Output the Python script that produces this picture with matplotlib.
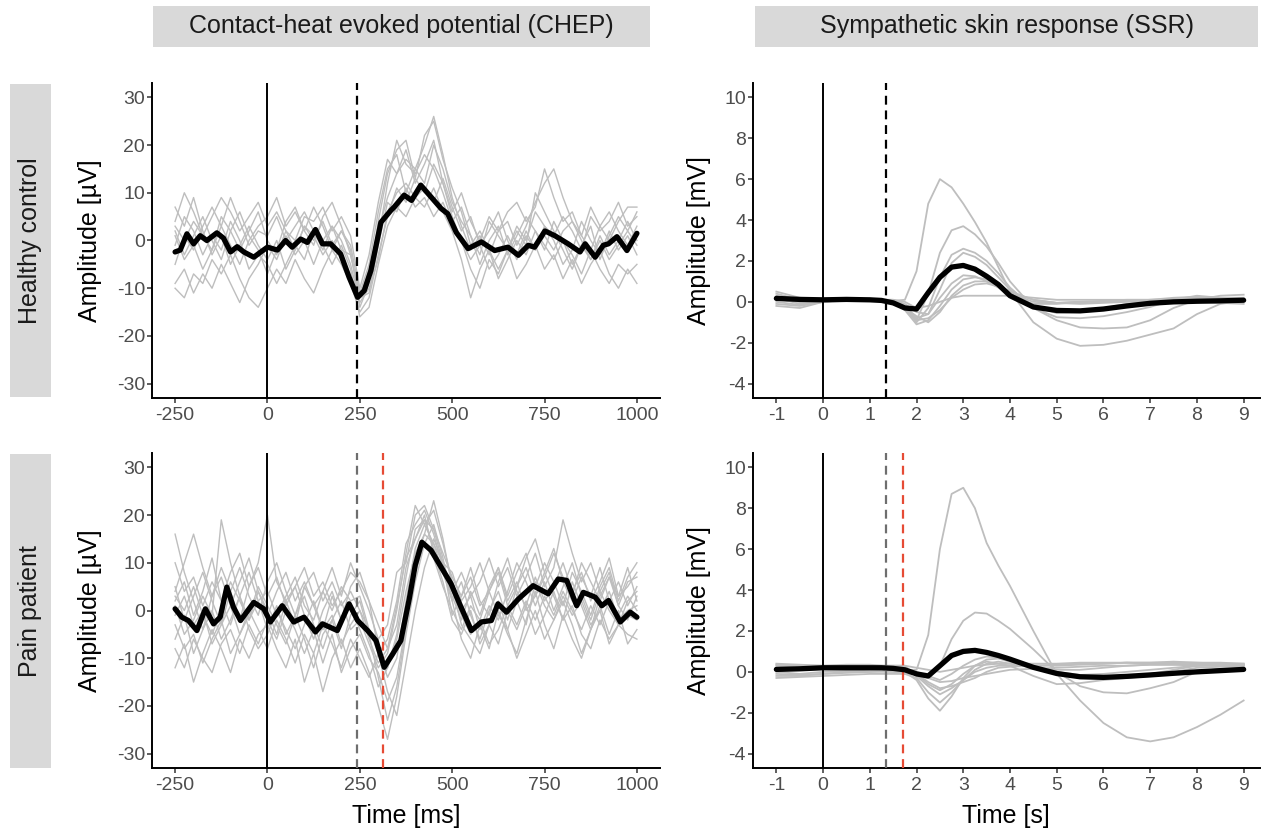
import matplotlib.pyplot as plt
from matplotlib.patches import Rectangle

plt.rcParams['font.family'] = ['Liberation Sans', 'DejaVu Sans']
plt.rcParams['axes.unicode_minus'] = False

# ---------------- DATA ----------------
# CHEP single traces, sampled every 25 ms from -250 to 1000 ms
chep_time = list(range(-250, 1001, 25))

# healthy control, single trials (uV)
hc1 = [4, 10, 6, 1, 5, 9, 6, 2, 5, 8,
       3, 6, 2, -2, 3, 1, -3, 0, -4, -8,
       -12, -6, 2, 9, 14, 17, 15, 20, 26, 18,
       9, 3, -2, 1, -3, 2, 4, -1, 3, 8,
       12, 15, 9, 4, 1, -2, 3, 6, 2, -1,
       3]
hc2 = [-10, -12, -7, -9, -4, -7, -3, -8, -12, -14,
       -10, -6, -9, -4, -8, -11, -6, -2, -5, -9,
       -15, -12, -3, 5, 11, 8, 13, 10, 16, 12,
       5, 0, -6, -10, -4, -7, -2, -8, -5, -1,
       -6, -3, -8, -4, -9, -5, -2, -7, -10, -6,
       -9]
hc3 = [2, -3, 1, 5, 0, -4, 2, 6, 1, -2,
       -7, -2, 4, 7, 2, -1, 5, 8, 3, -3,
       -11, -8, 0, 12, 21, 16, 14, 18, 15, 10,
       4, 7, 1, -5, 0, 3, -3, 1, 5, 2,
       -2, 4, 0, -5, -1, 3, -4, 1, 5, 2,
       6]
hc4 = [-5, 1, -2, 3, 7, 3, 9, 4, -1, 2,
       1, 5, 0, 3, 6, 2, -2, 3, 0, -5,
       -13, -10, -4, 6, 10, 12, 9, 11, 8, 13,
       7, 2, 5, -1, 2, 6, 0, -4, 1, -2,
       3, 0, -5, -2, 4, 0, -3, 2, -2, 1,
       -3]
hc5 = [7, 3, 9, 2, -3, 1, -5, -1, 3, -1,
       -4, 0, -6, -2, 3, 0, 4, -1, 2, -2,
       -14, -9, 4, 14, 19, 21, 13, 22, 25, 17,
       11, 6, -1, 2, -2, -6, -2, 2, -1, 10,
       6, 2, -2, -6, -1, -4, 1, -3, 0, 4,
       0]
hc6 = [-1, 5, 2, -3, 1, -2, 4, 0, -6, -3,
       -5, -9, -5, -1, -4, 2, -1, -5, -1, -6,
       -16, -14, -5, 3, 7, 5, 9, 7, 11, 6,
       2, -4, -12, -6, -2, -8, -4, 0, -3, 2,
       -1, -4, 0, -3, -7, -2, -6, -9, -5, -7,
       -5]
hc7 = [1, -4, -1, -6, -2, 3, -1, -5, 0, 3,
       5, 9, 3, 6, 2, 7, 3, -2, 2, -1,
       -11, -5, 6, 15, 18, 10, 15, 12, 20, 15,
       8, 4, 1, -3, 4, 1, -2, 3, 0, 6,
       3, 1, 5, 2, -2, 5, 2, 4, 8, 3,
       5]
hc8 = [-9, -6, -11, -7, -10, -5, -9, -13, -8, -5,
       -1, -4, 1, -3, 0, -5, 0, 3, -2, -3,
       -12, -11, -1, 8, 6, 11, 7, 9, 5, 8,
       3, 0, -4, -1, -6, -3, 1, -3, 2, -2,
       1, -2, 2, 4, 0, -4, 0, -4, -1, 2,
       -1]
hc9 = [3, 0, 4, 1, -2, 5, 2, -2, 2, 6,
       0, -3, 2, 0, 5, 4, 7, 2, 5, 1,
       -10, -3, 8, 17, 14, 19, 12, 16, 21, 12,
       6, 10, 4, 0, 5, 2, 6, 8, 4, 7,
       15, 9, 4, 6, 1, 7, 3, 0, 4, 7,
       7]

# pain patient, single trials (uV)
pp1 = [16, 8, 2, -4, 3, 9, 4, -2, 5, 10,
       20, 6, 2, -3, 5, 1, -4, 3, -2, 1,
       -4, -9, -16, -12, -6, 4, 12, 16, 14, 8,
       3, -2, 4, -1, 5, 9, 3, 8, 12, 5,
       10, 6, 1, 8, 4, -1, 5, 9, 2, 7,
       10]
pp2 = [-12, -7, -15, -9, -4, -8, -13, -6, -10, -5,
       -3, -8, -12, -6, -15, -9, -17, -10, -6, -12,
       -8, -13, -20, -27, -18, -5, 6, 14, 18, 11,
       2, -6, -10, -3, -8, 0, -5, -9, -2, 4,
       -3, -8, -1, -6, -10, -4, 0, -7, -3, -5,
       -6]
pp3 = [4, 10, 16, 9, 3, 7, 1, 6, 11, 4,
       -1, 4, 8, 2, 6, 1, 4, 9, 3, 10,
       5, 0, -6, -3, 8, 10, 20, 22, 17, 12,
       7, 3, 9, 2, -1, 6, 11, 4, 1, 7,
       2, 5, 10, 4, 8, 2, 6, 11, 3, 5,
       8]
pp4 = [-3, -8, -5, -11, -6, -2, -9, -5, 0, -4,
       -8, -2, -6, -11, -5, -9, -3, -7, -12, -6,
       -10, -14, -9, -17, -22, -11, 0, 9, 15, 10,
       4, -1, -5, -2, -7, -4, 1, -3, 2, -2,
       3, -1, 4, 0, -4, 1, -3, 2, -1, 3,
       0]
pp5 = [1, -5, -2, 3, -1, 19, 10, 3, -2, 4,
       0, -5, 2, 5, -1, -6, 0, 4, -2, 5,
       8, 2, -8, -12, -5, 7, 17, 19, 13, 8,
       2, 6, -1, -6, 0, 4, -2, 5, 11, 15,
       8, 3, -2, 6, 1, -4, 3, 7, 1, -2,
       3]
pp6 = [2, 6, -1, 4, 11, 2, -3, 3, 8, 2,
       -4, 1, -5, -1, 3, -3, -8, -2, 2, -4,
       -2, -7, -12, -9, 0, 12, 22, 18, 21, 14,
       6, 0, 3, -4, 1, -2, 4, 10, 6, 1,
       6, 0, 5, 10, 3, -2, 4, 0, -3, 2,
       4]
pp7 = [-8, -12, -6, -10, -13, -7, -4, -9, -3, -7,
       -2, -6, 0, -4, -9, -4, -11, -5, -13, -8,
       -5, -10, -13, -19, -14, -3, 10, 16, 23, 15,
       5, -3, -6, -9, -3, -7, 0, -4, 1, -5,
       -1, 4, -2, 1, -5, -8, -2, -6, -3, -1,
       -2]
pp8 = [5, -2, 3, 8, 2, -3, 4, 9, 3, -1,
       6, 10, 4, -1, 5, 8, 2, 6, 1, 4,
       0, -4, -9, -6, 2, 14, 18, 21, 16, 9,
       4, 8, 3, 6, 11, 5, 9, 3, 7, 12,
       5, 9, 19, 12, 6, 10, 4, 8, 1, 6,
       7]
pp9 = [3, 0, 5, -1, -5, 0, 6, 2, -2, 2,
       4, -1, 3, 7, 1, -2, 4, 0, 5, 2,
       3, -4, -8, -14, -10, 2, 13, 18, 14, 10,
       -1, 3, 7, 1, 4, 9, 2, 6, 0, 3,
       8, 13, 6, 2, 7, 3, 9, 2, 6, 1,
       5]
pp10 = [-6, -1, -9, -4, 0, -6, -2, 3, -4, -8,
        -5, 0, -4, -8, -3, 2, -4, -1, -7, -3,
        0, -6, -11, -8, -3, 9, 15, 20, 12, 6,
        -2, -5, 0, -7, -3, 2, -4, -10, -5, 0,
        -6, -2, 2, -3, -9, -4, 1, -5, 0, -7,
        -4]
pp11 = [10, 4, 7, 1, 6, 2, 8, 12, 5, 9,
        3, 7, 1, 5, 9, 3, 6, 1, 4, 8,
        6, 2, -3, -8, 1, 11, 15, 19, 17, 10,
        8, 2, 5, 10, 4, 8, 1, 5, 9, 3,
        7, 12, 7, 3, 10, 6, 2, 7, 3, 9,
        2]
pp12 = [-1, 3, -3, 0, -7, -3, 1, -5, -1, 5,
        1, -3, -7, -1, -6, -12, -5, -2, -8, -1,
        2, -5, -14, -23, -16, -4, 8, 14, 11, 5,
        0, -4, 1, -2, 4, -1, -4, 2, -3, 6,
        1, -2, 3, -1, 2, -3, 0, 4, -2, 0,
        1]

# CHEP grand averages
hc_chep_mean_t = [-250, -236, -218, -200, -182, -164, -137, -119, -100, -82,
                  -64, -37, -18, 0, 27, 49, 67, 90, 108, 130,
                  149, 171, 198, 221, 244, 262, 280, 307, 334, 343,
                  370, 390, 415, 443, 470, 488, 511, 543, 579, 615,
                  651, 679, 706, 723, 751, 778, 814, 846, 860, 887,
                  909, 923, 946, 973, 1000]
hc_chep_mean = [-2.4, -2.0, 1.4, -0.7, 1.0, 0.0, 1.6, 0.5, -2.4, -1.3,
                -2.4, -3.5, -2.4, -1.4, -2.0, 0.0, -1.4, 0.3, -0.4, 2.3,
                -0.7, -0.7, -2.8, -7.7, -11.9, -10.5, -6.3, 3.8, 6.3, 7.0,
                9.5, 8.4, 11.6, 9.1, 6.7, 5.6, 1.7, -1.7, -0.3, -2.1,
                -1.4, -3.1, -1.0, -1.4, 2.0, 1.0, -0.7, -2.4, -0.7, -3.5,
                -1.0, -0.7, 0.8, -2.1, 1.5]
pp_chep_mean_t = [-250, -232, -214, -191, -168, -146, -128, -110, -92, -73,
                  -37, -10, 8, 40, 71, 99, 130, 149, 189, 221,
                  244, 271, 294, 316, 339, 361, 384, 400, 418, 443,
                  470, 497, 524, 552, 579, 606, 624, 647, 679, 719,
                  760, 787, 810, 837, 855, 887, 905, 923, 955, 982, 1000]
pp_chep_mean = [0.35, -1.4, -2.1, -4.2, 0.35, -2.8, -1.4, 4.9, 0.7, -2.1,
                1.7, 0.35, -2.4, 1.0, -2.4, -1.4, -4.5, -2.8, -4.2, 1.4,
                -2.1, -4.2, -6.3, -11.9, -9.1, -6.3, 2.5, 9.5, 14.3, 12.6,
                9.1, 5.6, 0.7, -4.2, -2.4, -2.1, 1.4, -0.35, 2.4, 5.2,
                3.5, 6.6, 6.3, 1.0, 3.8, 2.8, 1.0, 2.1, -2.4, -0.35, -1.4]

# SSR traces (mV), time in s
ssr_time = [-1, -0.5, 0, 0.5, 1, 1.25, 1.5, 1.75, 2, 2.25, 2.5, 2.75, 3, 3.25,
            3.5, 3.75, 4, 4.5, 5, 5.5, 6, 6.5, 7, 7.5, 8, 8.5, 9]

hs1 = [0.3, 0.0, 0.05, 0.15, 0.1, 0.1, 0.05, 0.1,
       1.5, 4.8, 6.0, 5.6, 4.8, 3.9, 2.9, 1.7, 0.5,
       -1.0, -1.8, -2.15, -2.1, -1.9, -1.6, -1.3, -0.6, -0.1, 0.05]
hs2 = [0.2, -0.1, 0.05, 0.1, 0.15, 0.1, 0.0, -0.2,
       -0.9, 0.4, 2.4, 3.5, 3.7, 3.3, 2.7, 1.9, 1.0,
       -0.3, -0.9, -1.25, -1.3, -1.25, -0.9, -0.3, 0.1, 0.15, 0.1]
hs3 = [0.4, 0.1, 0.1, 0.1, 0.1, 0.05, 0.0, -0.3,
       -1.0, -0.3, 1.2, 2.3, 2.6, 2.4, 2.0, 1.4, 0.7,
       -0.3, -0.75, -0.8, -0.7, -0.5, -0.25, 0.1, 0.3, 0.2, 0.2]
hs4 = [-0.1, -0.2, 0.0, 0.1, 0.1, 0.1, 0.05, -0.2,
       -0.8, -0.6, 0.6, 1.9, 2.4, 2.2, 1.8, 1.2, 0.6,
       -0.2, -0.55, -0.5, -0.3, -0.1, 0.0, 0.15, 0.15, 0.1, 0.1]
hs5 = [0.1, 0.0, 0.05, 0.1, 0.1, 0.1, 0.05, -0.4,
       -1.1, -0.9, -0.2, 0.6, 1.1, 1.2, 1.1, 0.8, 0.4,
       0.0, -0.05, 0.0, 0.0, 0.05, 0.1, 0.1, 0.1, 0.1, 0.1]
hs6 = [0.0, -0.15, 0.0, 0.05, 0.1, 0.1, 0.0, -0.3,
       -0.7, -1.0, -0.5, 0.3, 0.8, 1.0, 1.0, 0.8, 0.5,
       0.1, -0.05, 0.0, 0.05, 0.1, 0.1, 0.15, 0.2, 0.15, 0.1]
hs7 = [0.2, 0.05, 0.05, 0.15, 0.15, 0.1, 0.1, -0.1,
       -0.5, -0.6, 0.2, 0.9, 1.3, 1.25, 1.0, 0.7, 0.3,
       -0.1, -0.1, 0.0, 0.0, 0.05, 0.1, 0.2, 0.25, 0.2, 0.15]
hs8 = [-0.2, -0.3, 0.0, 0.1, 0.15, 0.1, 0.1, 0.0,
       -0.3, -0.2, 0.0, 0.2, 0.3, 0.3, 0.3, 0.3, 0.3,
       0.2, 0.1, 0.1, 0.1, 0.1, 0.1, 0.05, 0.0, -0.05, -0.1]
hs9 = [0.5, 0.2, 0.1, 0.1, 0.05, 0.05, 0.0, -0.3,
       -0.9, -0.8, -0.4, 0.2, 0.6, 0.85, 0.9, 0.75, 0.5,
       0.1, -0.05, -0.1, -0.05, 0.0, 0.05, 0.1, 0.1, 0.3, 0.35]

ps1 = [0.2, 0.1, 0.15, 0.2, 0.2, 0.2, 0.2, 0.1,
       0.1, 1.8, 6.0, 8.7, 9.0, 8.0, 6.3, 5.2, 4.2,
       2.0, -0.1, -1.4, -2.5, -3.2, -3.4, -3.2, -2.7, -2.1, -1.4]
ps2 = [0.3, 0.2, 0.25, 0.3, 0.3, 0.3, 0.25, 0.2,
       -0.2, -0.3, 0.3, 1.6, 2.5, 2.9, 2.85, 2.5, 2.1,
       1.1, 0.0, -0.7, -1.0, -1.05, -0.8, -0.5, 0.0, 0.15, 0.2]
ps3 = [0.0, -0.1, 0.0, 0.05, 0.1, 0.1, 0.05, 0.0,
       -0.4, -1.3, -1.9, -1.2, -0.3, 0.3, 0.5, 0.4, 0.3,
       -0.2, -0.6, -0.55, -0.4, -0.3, -0.1, 0.1, 0.3, 0.35, 0.35]
ps4 = [-0.2, -0.2, -0.1, 0.0, 0.0, 0.05, 0.0, -0.1,
       -0.3, -1.0, -1.5, -1.0, -0.4, 0.1, 0.4, 0.5, 0.4,
       0.2, 0.0, -0.2, -0.3, -0.3, -0.2, 0.0, 0.2, 0.25, 0.3]
ps5 = [0.4, 0.35, 0.3, 0.35, 0.35, 0.3, 0.3, 0.3,
       -0.2, -0.7, -1.1, -0.8, -0.4, 0.0, 0.2, 0.3, 0.3,
       0.3, 0.3, 0.35, 0.4, 0.45, 0.45, 0.5, 0.45, 0.45, 0.4]
ps6 = [-0.3, -0.25, -0.2, -0.15, -0.1, -0.1, -0.1, -0.1,
       -0.1, -0.5, -0.8, -0.7, -0.5, -0.3, 0.0, 0.2, 0.25,
       0.3, 0.35, 0.4, 0.4, 0.45, 0.4, 0.4, 0.35, 0.3, 0.3]
ps7 = [0.1, 0.15, 0.2, 0.2, 0.2, 0.2, 0.2, 0.15,
       0.0, -0.2, -0.4, -0.1, 0.3, 0.6, 0.75, 0.7, 0.5,
       0.2, 0.1, 0.1, 0.2, 0.3, 0.35, 0.35, 0.4, 0.4, 0.35]
ps8 = [0.35, 0.3, 0.3, 0.3, 0.3, 0.3, 0.3, 0.3,
       0.2, 0.1, 0.0, 0.1, 0.2, 0.3, 0.35, 0.4, 0.4,
       0.4, 0.4, 0.45, 0.45, 0.45, 0.45, 0.45, 0.45, 0.4, 0.4]
ps9 = [-0.1, -0.15, -0.1, -0.05, 0.0, 0.0, 0.0, 0.0,
       -0.1, -0.3, -0.5, -0.45, -0.3, -0.2, -0.1, 0.0, 0.1,
       0.15, 0.2, 0.25, 0.3, 0.3, 0.35, 0.35, 0.3, 0.3, 0.25]
ps10 = [0.2, 0.15, 0.2, 0.2, 0.2, 0.2, 0.2, 0.1,
        -0.1, -0.6, -0.9, -0.6, -0.1, 0.3, 0.6, 0.65, 0.5,
        0.3, 0.0, -0.15, -0.1, 0.0, 0.1, 0.2, 0.3, 0.35, 0.35]

hc_ssr_mean = [0.17, 0.12, 0.10, 0.12, 0.10, 0.07, -0.05, -0.30,
               -0.35, 0.45, 1.20, 1.70, 1.78, 1.60, 1.25, 0.85, 0.30,
               -0.25, -0.42, -0.44, -0.35, -0.20, -0.07, 0.00, 0.03, 0.05, 0.08]
pp_ssr_mean = [0.12, 0.15, 0.2, 0.2, 0.2, 0.2, 0.17, 0.1,
               -0.1, -0.2, 0.3, 0.8, 1.0, 1.05, 0.95, 0.8, 0.62,
               0.22, -0.08, -0.24, -0.27, -0.22, -0.15, -0.07, 0.0, 0.06, 0.12]

# response latencies (dashed lines)
hc_chep_latency = 242
pp_chep_latency = 314
hc_ssr_latency = 1.34
pp_ssr_latency = 1.70

col_titles = ['Contact-heat evoked potential (CHEP)', 'Sympathetic skin response (SSR)']
row_titles = ['Healthy control', 'Pain patient']

# ---------------- FIGURE ----------------
W, H = 1265, 830
fig = plt.figure(figsize=(W / 100, H / 100), dpi=100)

GREY = '#bebebe'
RED = '#e64b35'
DGREY = '#6e6e6e'
dash = (0, (4, 2.6))


def add_panel(x0, y0, x1, y1):
    return fig.add_axes([x0 / W, 1 - y1 / H, (x1 - x0) / W, (y1 - y0) / H])


def style(ax, xlim, ylim, xticks, yticks):
    ax.set_xlim(xlim)
    ax.set_ylim(ylim)
    ax.set_xticks(xticks)
    ax.set_yticks(yticks)
    for s in ['top', 'right']:
        ax.spines[s].set_visible(False)
    for s in ['left', 'bottom']:
        ax.spines[s].set_linewidth(1.4)
    ax.tick_params(length=3.5, width=1.1, color='#333333', labelsize=14,
                   labelcolor='#4d4d4d')
    ax.tick_params(axis='y', pad=1.5)
    ax.tick_params(axis='x', pad=3)


def fig_box(x0, y0, x1, y1):
    fig.patches.append(Rectangle((x0 / W, 1 - y1 / H), (x1 - x0) / W, (y1 - y0) / H,
                                 transform=fig.transFigure, facecolor='#d9d9d9',
                                 edgecolor='none', zorder=0))


ax_hc_chep = add_panel(152, 83, 660, 398)
ax_pp_chep = add_panel(152, 453, 660, 768)
ax_hc_ssr = add_panel(753, 83, 1260, 398)
ax_pp_ssr = add_panel(753, 453, 1260, 768)

# CHEP panels
for ax, traces, mt, mv in [(ax_hc_chep, [hc1, hc2, hc3, hc4, hc5, hc6, hc7, hc8, hc9],
                            hc_chep_mean_t, hc_chep_mean),
                           (ax_pp_chep, [pp1, pp2, pp3, pp4, pp5, pp6, pp7, pp8, pp9,
                                         pp10, pp11, pp12],
                            pp_chep_mean_t, pp_chep_mean)]:
    for tr in traces:
        ax.plot(chep_time, tr, color=GREY, lw=1.0, zorder=1)
    ax.axvline(0, color='black', lw=1.4, zorder=2)
    ax.plot(mt, mv, color='black', lw=3.8, solid_joinstyle='round',
            solid_capstyle='round', zorder=4)
    style(ax, (-312.5, 1062.5), (-33, 33), [-250, 0, 250, 500, 750, 1000],
          [-30, -20, -10, 0, 10, 20, 30])

ax_hc_chep.axvline(hc_chep_latency, color='black', lw=1.6, ls=dash, zorder=3)
ax_pp_chep.axvline(hc_chep_latency, color=DGREY, lw=1.6, ls=dash, zorder=3)
ax_pp_chep.axvline(pp_chep_latency, color=RED, lw=1.6, ls=dash, zorder=3)

# SSR panels
for ax, traces, mv in [(ax_hc_ssr, [hs1, hs2, hs3, hs4, hs5, hs6, hs7, hs8, hs9], hc_ssr_mean),
                       (ax_pp_ssr, [ps1, ps2, ps3, ps4, ps5, ps6, ps7, ps8, ps9, ps10],
                        pp_ssr_mean)]:
    for tr in traces:
        ax.plot(ssr_time, tr, color=GREY, lw=1.3, zorder=1)
    ax.axvline(0, color='black', lw=1.4, zorder=2)
    ax.plot(ssr_time, mv, color='black', lw=3.8, solid_joinstyle='round',
            solid_capstyle='round', zorder=4)
    style(ax, (-1.5, 9.35), (-4.7, 10.7), list(range(-1, 10)),
          [-4, -2, 0, 2, 4, 6, 8, 10])

ax_hc_ssr.axvline(hc_ssr_latency, color='black', lw=1.6, ls=dash, zorder=3)
ax_pp_ssr.axvline(hc_ssr_latency, color=DGREY, lw=1.6, ls=dash, zorder=3)
ax_pp_ssr.axvline(pp_ssr_latency, color=RED, lw=1.6, ls=dash, zorder=3)

# axis titles
for yc in [240.5, 610.5]:
    fig.text(90 / W, 1 - yc / H, 'Amplitude [µV]', rotation=90, ha='center',
             va='center', fontsize=18)
    fig.text(699 / W, 1 - yc / H, 'Amplitude [mV]', rotation=90, ha='center',
             va='center', fontsize=18)
fig.text(406 / W, 1 - 816 / H, 'Time [ms]', ha='center', va='center', fontsize=18)
fig.text(1006 / W, 1 - 816 / H, 'Time [s]', ha='center', va='center', fontsize=18)

# strips
fig_box(153, 6, 650, 47)
fig.text(401.5 / W, 1 - 26.5 / H, col_titles[0], ha='center', va='center',
         fontsize=18, color='#1a1a1a')
fig_box(755, 6, 1258, 47)
fig.text(1006.5 / W, 1 - 26.5 / H, col_titles[1], ha='center', va='center',
         fontsize=18, color='#1a1a1a')
fig_box(10, 84, 51, 397)
fig.text(30.5 / W, 1 - 240.5 / H, row_titles[0], rotation=90, ha='center',
         va='center', fontsize=18, color='#1a1a1a')
fig_box(10, 454, 51, 768)
fig.text(30.5 / W, 1 - 611 / H, row_titles[1], rotation=90, ha='center',
         va='center', fontsize=18, color='#1a1a1a')

fig.savefig('out.png', dpi=100)
